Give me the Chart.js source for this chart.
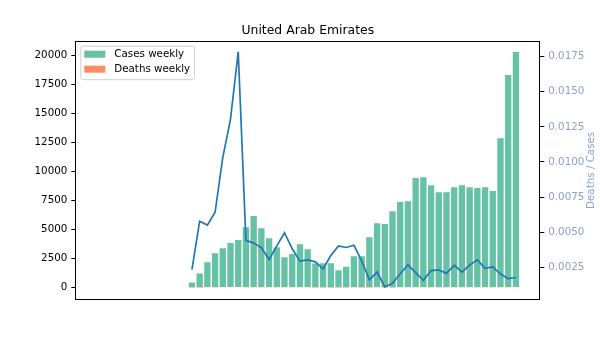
<!DOCTYPE html>
<html>
<head>
<meta charset="utf-8">
<script src="https://cdn.jsdelivr.net/npm/chart.js@4"></script>
<style>
  html, body { margin: 0; padding: 0; background: #fff; }
  #wrap { width: 600px; height: 337px; }
</style>
</head>
<body>
<div id="wrap"><canvas id="myChart" width="600" height="337"></canvas></div>
<script>
// weekly counts, oldest week first (the first weeks had no cases)
const casesWeekly = [
  0, 0, 0, 0, 0, 0, 0, 0, 0, 0, 0, 0,
  430, 1210, 2180, 2960, 3390, 3830, 4090, 5200, 6160, 5120,
  4260, 3480, 2620, 2880, 3740, 3310, 2080, 2100, 2100, 1490,
  1790, 2700, 2700, 4340, 5550, 5470, 6590, 7370, 7450, 9440,
  9520, 8830, 8230, 8230, 8660, 8830, 8660, 8580, 8660, 8320,
  12890, 18330, 20320
];
const deathsWeekly = [
  0, 0, 0, 0, 0, 0, 0, 0, 0, 0, 0, 0,
  1, 7, 12, 19, 35, 50, 73, 23, 26, 20,
  13, 14, 13, 11, 11, 10, 6, 5, 7, 6,
  7, 11, 8, 7, 12, 6, 9, 15, 20, 20,
  15, 20, 19, 17, 23, 19, 23, 26, 21, 21,
  26, 31, 36
];
const casesTicks = [0, 2500, 5000, 7500, 10000, 12500, 15000, 17500, 20000];
const ratioTicks = [0.0025, 0.005, 0.0075, 0.01, 0.0125, 0.015, 0.0175];

const titleText = 'United Arab Emirates';
const ratioLabel = 'Deaths / Cases';
const ratioColor = '#8da0cb';

// deaths per case for each week, no value while there are no cases
const ratioWeekly = casesWeekly.map((c, i) => c > 0 ? deathsWeekly[i] / c : null);

const toPoints = arr => arr.map((v, i) => ({ x: i, y: v }));

// frame, title, legend box and the right axis label
const decorations = {
  id: 'decorations',
  afterDraw(chart) {
    const ctx = chart.ctx;
    const ca = chart.chartArea;
    ctx.save();

    ctx.strokeStyle = '#000';
    ctx.lineWidth = 1;
    const l = Math.round(ca.left) + 0.5, t = Math.round(ca.top) + 0.5;
    const r = Math.round(ca.right) - 0.5, b = Math.round(ca.bottom) - 0.5;
    ctx.strokeRect(l, t, r - l, b - t);

    ctx.fillStyle = '#000';
    ctx.font = '12.4px "DejaVu Sans"';
    ctx.textAlign = 'center';
    ctx.textBaseline = 'alphabetic';
    ctx.fillText(titleText, (ca.left + ca.right) / 2, 34);

    // legend
    const items = chart.data.datasets.filter(d => d.type !== 'line');
    ctx.font = '10.3px "DejaVu Sans"';
    let maxW = 0;
    items.forEach(d => { maxW = Math.max(maxW, ctx.measureText(d.label).width); });
    const bx = ca.left + 5, by = ca.top + 5;
    const bw = 34 + maxW + 4, bh = 33.5;
    ctx.beginPath();
    ctx.roundRect(bx + 0.5, by + 0.5, bw, bh, 2);
    ctx.fillStyle = 'rgba(255,255,255,0.8)';
    ctx.fill();
    ctx.strokeStyle = '#d0d0d0';
    ctx.stroke();
    ctx.textAlign = 'left';
    ctx.textBaseline = 'middle';
    items.forEach((d, i) => {
      const cy = by + 8.5 + i * 15;
      ctx.fillStyle = d.backgroundColor;
      ctx.fillRect(bx + 4, cy - 3.5, 21, 7);
      ctx.fillStyle = '#000';
      ctx.fillText(d.label, bx + 34, cy);
    });

    // right axis label, reading upwards
    ctx.translate(591.5, (ca.top + ca.bottom) / 2);
    ctx.rotate(-Math.PI / 2);
    ctx.fillStyle = ratioColor;
    ctx.textAlign = 'center';
    ctx.fillText(ratioLabel, 0, 0);
    ctx.restore();
  }
};

Chart.defaults.font.family = '"DejaVu Sans"';
Chart.defaults.font.size = 10.3;

const ctx = document.getElementById('myChart').getContext('2d');
new Chart(ctx, {
  type: 'bar',
  data: {
    datasets: [
      {
        type: 'line',
        label: ratioLabel,
        data: toPoints(ratioWeekly),
        yAxisID: 'y1',
        borderColor: '#1f77b4',
        borderWidth: 1.7,
        pointRadius: 0,
        tension: 0,
        order: 0
      },
      {
        label: 'Cases weekly',
        data: toPoints(casesWeekly),
        backgroundColor: '#66c2a5',
        yAxisID: 'y',
        grouped: false,
        barPercentage: 0.82,
        categoryPercentage: 1,
        order: 2
      },
      {
        label: 'Deaths weekly',
        data: toPoints(deathsWeekly),
        backgroundColor: '#fc8d62',
        yAxisID: 'y',
        grouped: false,
        barPercentage: 0.82,
        categoryPercentage: 1,
        order: 1
      }
    ]
  },
  options: {
    responsive: false,
    animation: false,
    layout: { padding: { left: 0, right: 0, top: 40.7, bottom: 37 } },
    plugins: {
      legend: { display: false },
      title: { display: false },
      tooltip: { enabled: false }
    },
    scales: {
      x: {
        type: 'linear',
        display: false,
        offset: false,
        min: -3.12,
        max: 57.16
      },
      y: {
        position: 'left',
        min: -1080,
        max: 21300,
        afterFit(scale) { scale.width = 75.3; },
        afterBuildTicks(scale) { scale.ticks = casesTicks.map(v => ({ value: v })); },
        ticks: {
          color: '#000',
          padding: 4,
          callback: v => String(v)
        },
        grid: { drawOnChartArea: false, tickLength: 4, tickColor: '#000' },
        border: { display: false }
      },
      y1: {
        position: 'right',
        min: 0.00017,
        max: 0.01864,
        afterFit(scale) { scale.width = 59.7; },
        afterBuildTicks(scale) { scale.ticks = ratioTicks.map(v => ({ value: v })); },
        ticks: {
          color: ratioColor,
          padding: 4,
          callback: v => v.toFixed(4)
        },
        grid: { drawOnChartArea: false, tickLength: 4, tickColor: '#000' },
        border: { display: false }
      }
    }
  },
  plugins: [decorations]
});
</script>
</body>
</html>
